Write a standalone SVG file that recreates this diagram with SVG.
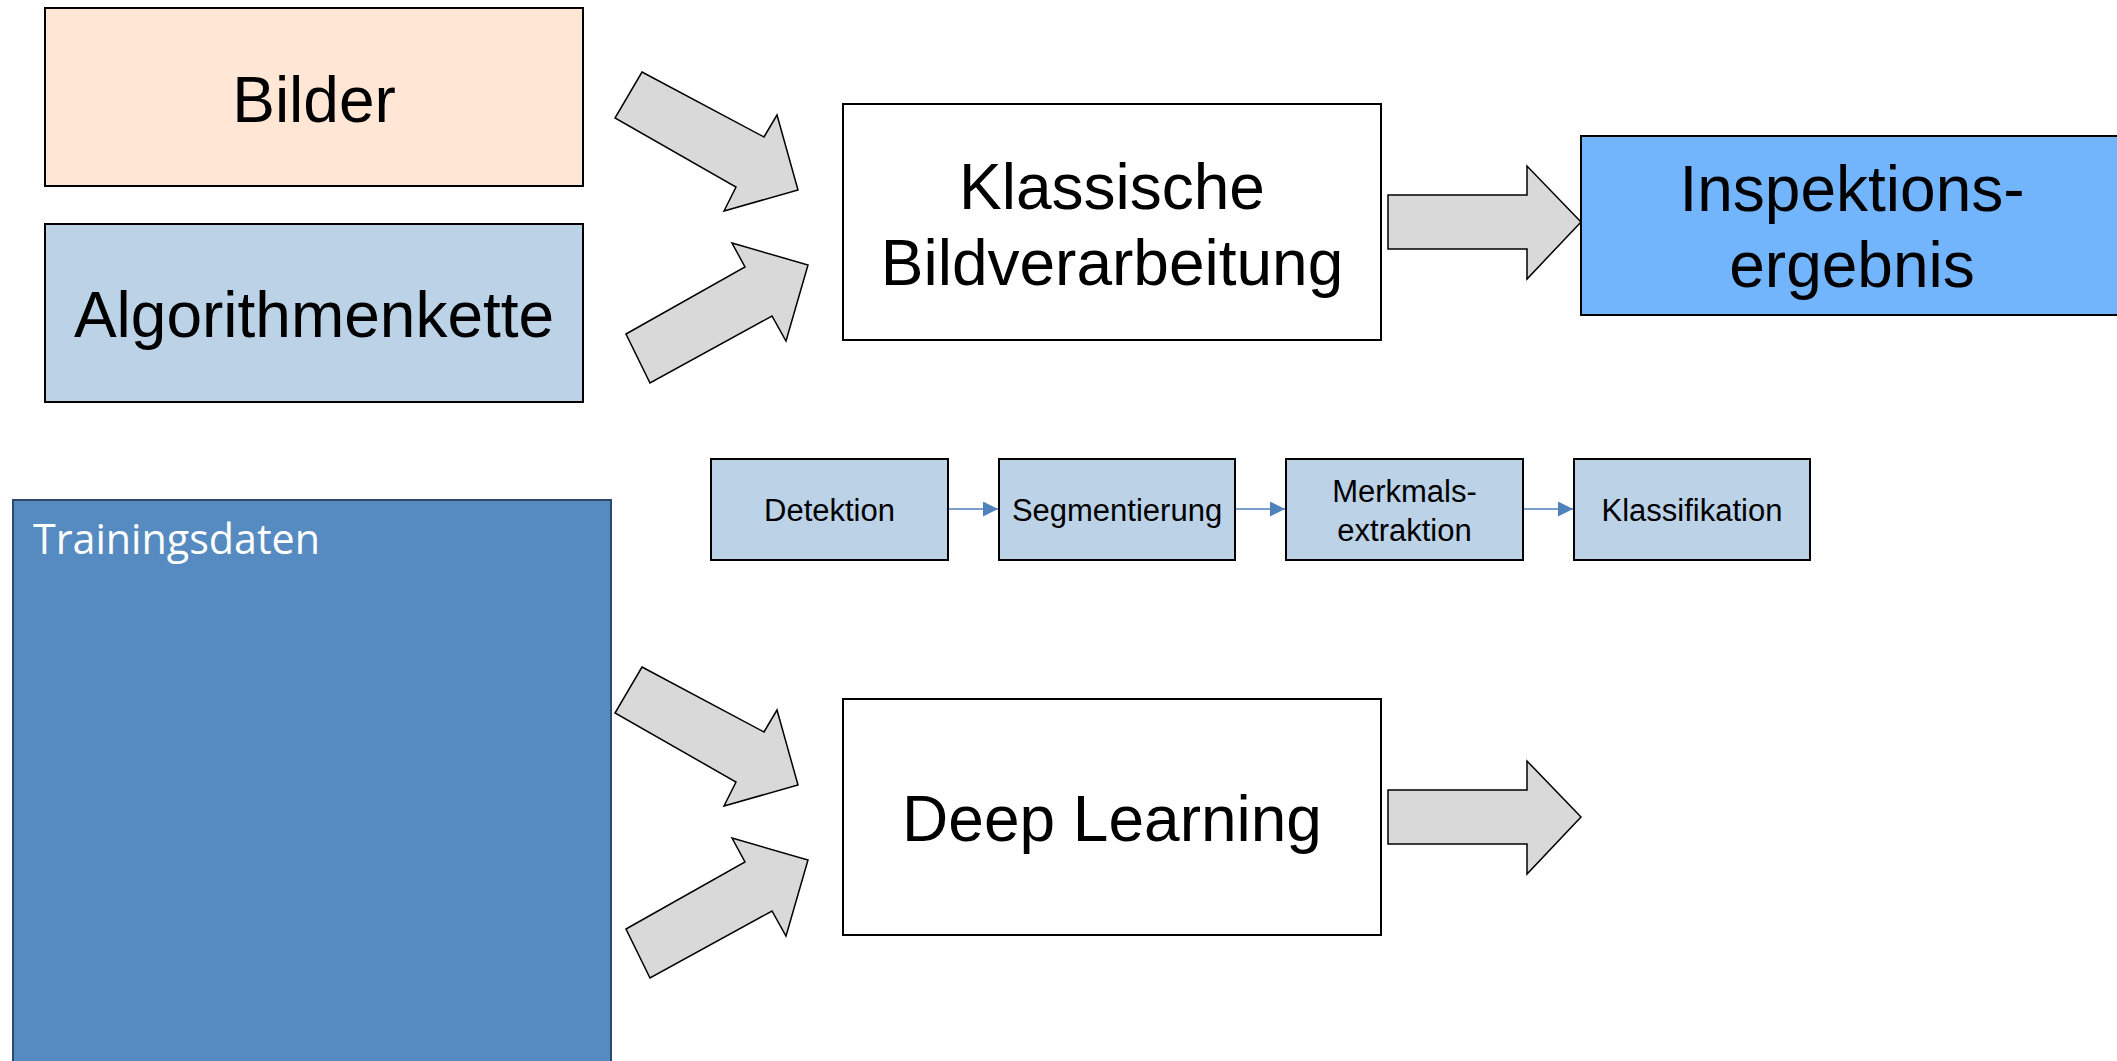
<svg xmlns="http://www.w3.org/2000/svg" width="2117" height="1061" viewBox="0 0 2117 1061">
<style>
.box{stroke:#000;stroke-width:2}
.big{font-family:"Liberation Sans",Arial,sans-serif;font-size:64px;fill:#000;text-anchor:middle}
.small{font-family:"Liberation Sans",Arial,sans-serif;font-size:31px;fill:#000;text-anchor:middle}
.arr{fill:#D9D9D9;stroke:#000;stroke-width:1.5;stroke-linejoin:miter}
.link{stroke:#4F81BD;stroke-width:1.6;fill:none}
</style>
<defs>
<marker id="tri" markerWidth="16" markerHeight="16" refX="15" refY="7.5" orient="auto" markerUnits="userSpaceOnUse">
<path d="M0,0 L15,7.5 L0,15 Z" fill="#4F81BD"/>
</marker>
<polygon id="diagDown" points="642,72 764,137 777,115 798,190 724,211 736,187 615,118"/>
<polygon id="diagUp" points="626,334 745,267 732,243 808,265 786,341 772,316 650,383"/>
<polygon id="rightArr" points="1388,195 1527,195 1527,166 1581,222 1527,279 1527,249 1388,249"/>
</defs>
<rect width="2117" height="1061" fill="#fff"/>

<g id="bilder">
<rect class="box" x="45" y="8" width="538" height="178" fill="#FFE6D5"/>
<text class="big" x="314" y="122">Bilder</text>
</g>
<g id="algorithmenkette">
<rect class="box" x="45" y="224" width="538" height="178" fill="#BBD2E7"/>
<text class="big" x="314" y="337">Algorithmenkette</text>
</g>
<g id="klassische">
<rect class="box" x="843" y="104" width="538" height="236" fill="#fff"/>
<text class="big" x="1112" y="209">Klassische</text>
<text class="big" x="1112" y="285">Bildverarbeitung</text>
</g>
<g id="inspektion">
<rect class="box" x="1581" y="136" width="545" height="179" fill="#72B5FD"/>
<text class="big" x="1852" y="211">Inspektions-</text>
<text class="big" x="1852" y="287">ergebnis</text>
</g>
<g id="detektion">
<rect class="box" x="711" y="459" width="237" height="101" fill="#BBD2E7"/>
<text class="small" x="829.5" y="521">Detektion</text>
</g>
<g id="segmentierung">
<rect class="box" x="999" y="459" width="236" height="101" fill="#BBD2E7"/>
<text class="small" x="1117" y="521">Segmentierung</text>
</g>
<g id="merkmalsextraktion">
<rect class="box" x="1286" y="459" width="237" height="101" fill="#BBD2E7"/>
<text class="small" x="1404.5" y="502">Merkmals-</text>
<text class="small" x="1404.5" y="541">extraktion</text>
</g>
<g id="klassifikation">
<rect class="box" x="1574" y="459" width="236" height="101" fill="#BBD2E7"/>
<text class="small" x="1692" y="521">Klassifikation</text>
</g>
<g id="trainingsdaten">
<rect x="13" y="500" width="598" height="570" fill="#568BC1" stroke="#2E4A6B" stroke-width="2"/>
<text x="33" y="554" font-family="'Open Sans','Noto Sans',sans-serif" font-size="42" fill="#fff" textLength="287" lengthAdjust="spacingAndGlyphs">Trainingsdaten</text>
</g>
<g id="deeplearning">
<rect class="box" x="843" y="699" width="538" height="236" fill="#fff"/>
<text class="big" x="1112" y="841">Deep Learning</text>
</g>

<g id="connectors">
<use href="#diagDown" class="arr"/>
<use href="#diagUp" class="arr"/>
<use href="#rightArr" class="arr"/>
<use href="#diagDown" class="arr" transform="translate(0,595)"/>
<use href="#diagUp" class="arr" transform="translate(0,595)"/>
<use href="#rightArr" class="arr" transform="translate(0,595)"/>
<line class="link" x1="949" y1="509" x2="998" y2="509" marker-end="url(#tri)"/>
<line class="link" x1="1236" y1="509" x2="1285" y2="509" marker-end="url(#tri)"/>
<line class="link" x1="1524" y1="509" x2="1573" y2="509" marker-end="url(#tri)"/>
</g>
</svg>
